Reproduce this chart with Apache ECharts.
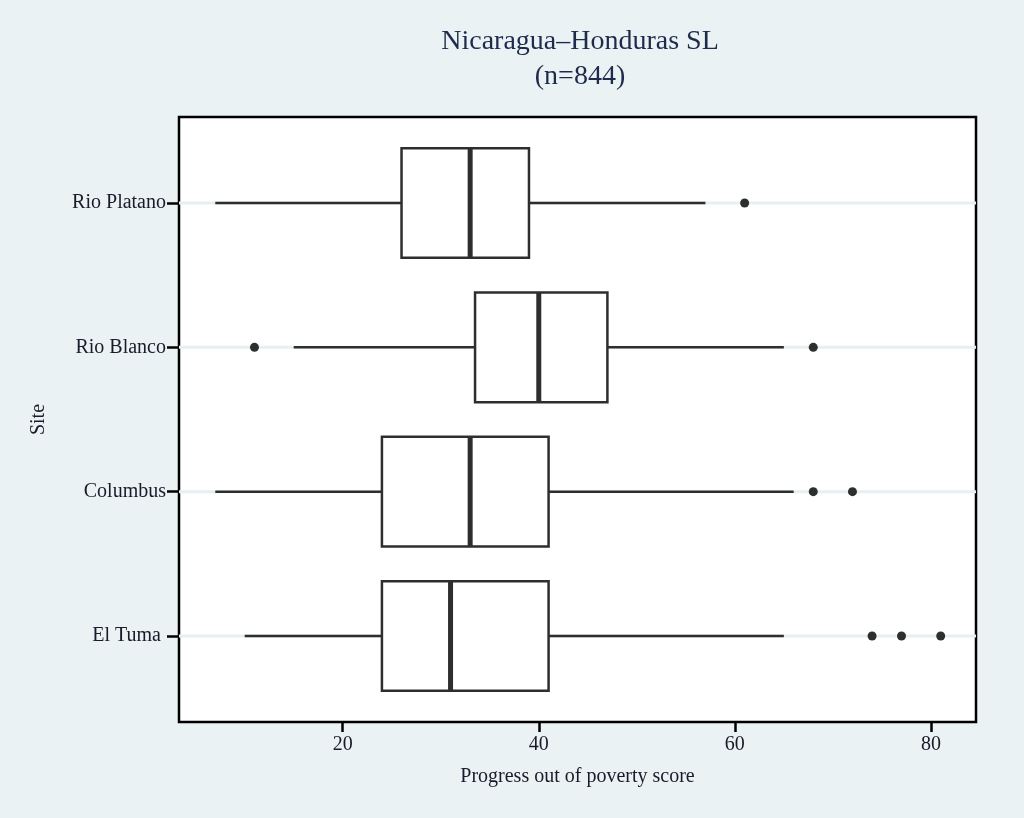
<!DOCTYPE html>
<html>
<head>
<meta charset="utf-8">
<script src="https://cdn.jsdelivr.net/npm/echarts@6/dist/echarts.min.js"></script>
<style>
html,body{margin:0;padding:0;background:#eaf2f3;}
#chart{width:1024px;height:818px;}
</style>
</head>
<body>
<div id="chart"></div>
<script>
var sites = ['Rio Platano', 'Rio Blanco', 'Columbus', 'El Tuma '];
// [lower whisker, Q1, median, Q3, upper whisker]
var boxStats = [
  [7, 26, 33, 39, 57],
  [15, 33.5, 40, 47, 65],
  [7, 24, 33, 41, 66],
  [10, 24, 31, 41, 65]
];
// outliers as [siteIndex, value]
var outliers = [
  [0, 61],
  [1, 11], [1, 68],
  [2, 68], [2, 72],
  [3, 74], [3, 77], [3, 81]
];
var xTicks = [20, 40, 60, 80];

var serif = '"Liberation Serif", "DejaVu Serif", serif';
var chart = echarts.init(document.getElementById('chart'));

var boxData = boxStats.map(function (s, i) { return [i + 1].concat(s); });
var outData = outliers.map(function (o) { return [o[1], o[0] + 1]; });

var XMIN = 3.3, XMAX = 84.6;
var HALF = 0.38;

chart.setOption({
  backgroundColor: '#eaf2f3',
  animation: false,
  title: {
    text: 'Nicaragua\u2013Honduras SL\n(n=844)',
    left: 575,
    top: 19,
    textAlign: 'center',
    textStyle: {
      fontFamily: serif,
      fontSize: 28,
      fontWeight: 'normal',
      color: '#1e2b4d',
      lineHeight: 35
    }
  },
  grid: {
    left: 179, right: 48, top: 117, bottom: 96,
    show: true,
    backgroundColor: '#ffffff',
    borderColor: '#000000',
    borderWidth: 2.5
  },
  xAxis: {
    type: 'value',
    min: XMIN, max: XMAX,
    name: 'Progress out of poverty score',
    nameLocation: 'middle',
    nameGap: 45,
    nameTextStyle: { fontFamily: serif, fontSize: 20, color: '#1a1a2a' },
    axisLine: { show: false },
    axisTick: { show: true, length: 10, lineStyle: { color: '#000', width: 2.5 }, customValues: xTicks },
    axisLabel: { fontFamily: serif, fontSize: 20, color: '#1a1a2a', margin: 13, customValues: xTicks },
    splitLine: { show: false }
  },
  yAxis: {
    type: 'value',
    inverse: true,
    min: 0.404, max: 4.596,
    name: 'Site',
    nameLocation: 'middle',
    nameGap: 130,
    nameTextStyle: { fontFamily: serif, fontSize: 20, color: '#1a1a2a' },
    axisLine: { show: false },
    axisTick: { show: true, length: 12, lineStyle: { color: '#000', width: 2.5 }, customValues: [1, 2, 3, 4] },
    axisLabel: {
      fontFamily: serif, fontSize: 20, color: '#1a1a2a', margin: 13,
      customValues: [1, 2, 3, 4],
      formatter: function (v) { return sites[Math.round(v) - 1] || ''; }
    },
    splitLine: { show: false }
  },
  series: [
    {
      type: 'custom',
      data: boxData,
      z: 2,
      renderItem: function (params, api) {
        var pos = api.value(0);
        var lo = api.value(1), q1 = api.value(2), med = api.value(3), q3 = api.value(4), hi = api.value(5);
        var c = function (x, y) { return api.coord([x, y]); };
        var g0 = c(XMIN, pos), g1 = c(XMAX, pos);
        var pLo = c(lo, pos), pQ1 = c(q1, pos), pQ3 = c(q3, pos), pHi = c(hi, pos);
        var top = c(q1, pos - HALF)[1], bot = c(q1, pos + HALF)[1];
        var pMed = c(med, pos);
        var stroke = '#2e2e2e';
        return {
          type: 'group',
          children: [
            { type: 'line', shape: { x1: g0[0], y1: g0[1], x2: g1[0], y2: g1[1] }, style: { stroke: '#e6eff1', lineWidth: 3 } },
            { type: 'line', shape: { x1: pLo[0], y1: pLo[1], x2: pQ1[0], y2: pQ1[1] }, style: { stroke: stroke, lineWidth: 2.5 } },
            { type: 'line', shape: { x1: pQ3[0], y1: pQ3[1], x2: pHi[0], y2: pHi[1] }, style: { stroke: stroke, lineWidth: 2.5 } },
            { type: 'rect', shape: { x: pQ1[0], y: top, width: pQ3[0] - pQ1[0], height: bot - top }, style: { fill: '#ffffff', stroke: stroke, lineWidth: 2.5 } },
            { type: 'line', shape: { x1: pMed[0], y1: top, x2: pMed[0], y2: bot }, style: { stroke: stroke, lineWidth: 5 } }
          ]
        };
      }
    },
    {
      type: 'scatter',
      data: outData,
      symbol: 'circle',
      symbolSize: 9,
      z: 3,
      itemStyle: { color: '#2e2e2e', opacity: 1 }
    }
  ]
});
</script>
</body>
</html>
